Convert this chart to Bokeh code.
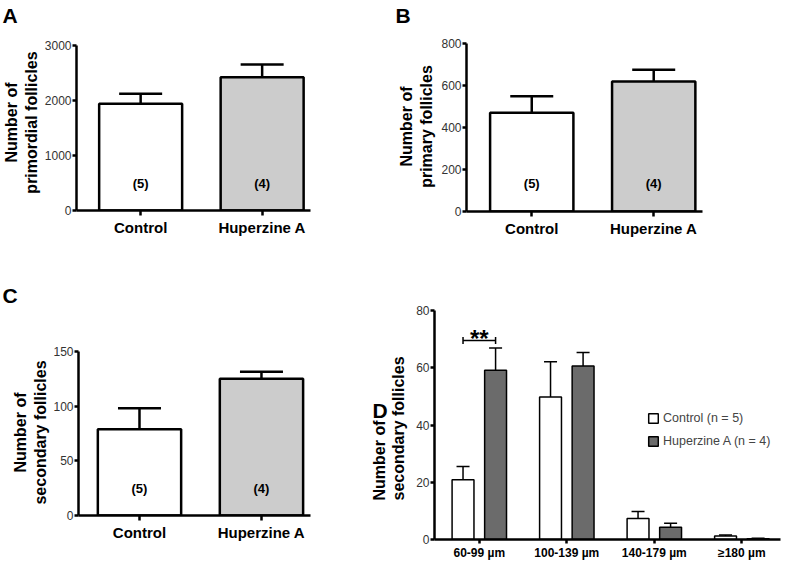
from math import pi

import numpy as np
from bokeh.plotting import figure
from bokeh.models import (Range1d, FixedTicker, Whisker, TeeHead,
                          ColumnDataSource, Legend, LegendItem)
from bokeh.layouts import column, row
from bokeh.core.properties import value
from bokeh.embed import file_html
from bokeh.resources import INLINE

FONT = "Liberation Sans"

# ---------------- data ----------------
groups = ["Control", "Huperzine A"]
n_animals = [5, 4]

primordial_mean = [1940, 2425]
primordial_sem = [185, 230]

primary_mean = [470, 619]
primary_sem = [79, 56]

secondary_mean = [79, 125]
secondary_sem = [19, 6.5]

size_classes = ["60-99 µm", "100-139 µm", "140-179 µm", "≥180 µm"]
control_by_size = [20.9, 49.8, 7.3, 1.2]
control_by_size_sem = [4.6, 12.3, 2.5, 0.4]
huperzine_by_size = [59.1, 60.6, 4.3, 0.3]
huperzine_by_size_sem = [7.8, 4.7, 1.4, 0.1]

sig_group = 0
sig_level = 69.5
sig_text = "**"

# ---------------- style ----------------
bar_fills = ["white", "#cccccc"]
hup_fill_d = "#6b6b6b"


def text_fig(W, H, items):
    """A blank, axis-less canvas in pixel coordinates for panel letters and axis titles."""
    p = figure(width=W, height=H, x_range=Range1d(0, W), y_range=Range1d(H, 0),
               output_backend="svg", toolbar_location=None, min_border=0,
               x_axis_location=None, y_axis_location=None, frame_align=False,
               background_fill_color="white", border_fill_color="white")
    p.grid.visible = False
    p.outline_line_color = None
    for (x, y, txt, size, angle, align, baseline) in items:
        p.text(x=[x], y=[y], text=[txt], text_font=value(FONT), text_font_style="bold",
               text_font_size=size, angle=angle, text_align=align,
               text_baseline=baseline, text_color="black")
    return p


def ylabel_items(cx, cy, line1, line2, align="center"):
    return [(cx - 9.6, cy, line1, "16px", pi / 2, align, "middle"),
            (cx + 9.6, cy, line2, "16px", pi / 2, align, "middle")]


def style_axes(p, xticks, xlabels, yticks, xfont, lw):
    p.xgrid.visible = False
    p.ygrid.visible = False
    p.outline_line_color = None
    for ax in (p.xaxis[0], p.yaxis[0]):
        ax.axis_line_width = lw
        ax.axis_line_color = "black"
        ax.major_tick_line_width = lw
        ax.major_tick_line_color = "black"
        ax.major_tick_out = 5
        ax.major_tick_in = 0
        ax.minor_tick_line_color = None
    xa = p.xaxis[0]
    xa.ticker = FixedTicker(ticks=xticks)
    xa.major_label_overrides = {t: l for t, l in zip(xticks, xlabels)}
    xa.major_label_text_font = FONT
    xa.major_label_text_font_style = "bold"
    xa.major_label_text_font_size = xfont
    xa.major_label_text_color = "black"
    xa.major_label_standoff = 3
    ya = p.yaxis[0]
    ya.ticker = FixedTicker(ticks=yticks)
    ya.major_label_text_font = FONT
    ya.major_label_text_font_size = "12px"
    ya.major_label_text_color = "#333333"
    ya.major_label_standoff = 1
    ya.major_tick_out = 4


def group_panel(means, sems, ymax, yticks, W, H, left, right, top, bottom, xr):
    p = figure(width=W, height=H, x_range=Range1d(*xr), y_range=Range1d(0, ymax),
               output_backend="svg", toolbar_location=None, frame_align=False,
               min_border_left=left, min_border_right=right,
               min_border_top=top, min_border_bottom=bottom,
               background_fill_color="white", border_fill_color="white")
    xs = list(range(len(groups)))
    src = ColumnDataSource(dict(
        x=xs, mean=means, upper=[m + s for m, s in zip(means, sems)],
        fill=bar_fills, n=[f"({n})" for n in n_animals],
        ny=[0.165 * ymax] * len(groups)))
    p.vbar(x="x", top="mean", bottom=0, width=0.683, fill_color="fill",
           line_color="black", line_width=2.5, source=src)
    p.add_layout(Whisker(source=src, base="x", lower="mean", upper="upper",
                         dimension="height", line_width=2.5, line_color="black",
                         upper_head=TeeHead(size=43, line_width=2.5, line_color="black"),
                         lower_head=None))
    p.text(x="x", y="ny", text="n", source=src, text_font=value(FONT),
           text_font_style="bold", text_font_size="13px", text_align="center",
           text_baseline="middle", text_color="black")
    style_axes(p, xs, groups, yticks, "15px", 2.5)
    return p


TOP_H, BOT_H = 262, 300

tA = text_fig(41, TOP_H, [(2, 3, "A", "21px", 0, "left", "top")]
              + ylabel_items(21, 122, "Number of", "primordial follicles"))
pA = group_panel(primordial_mean, primordial_sem, 3000, [0, 1000, 2000, 3000],
                 351, TOP_H, 32, 82, 45, 52, (-0.528, 1.398))
tB = text_fig(46, TOP_H, [(3, 3, "B", "21px", 0, "left", "top")]
              + ylabel_items(24, 126, "Number of", "primary follicles"))
pB = group_panel(primary_mean, primary_sem, 800, [0, 200, 400, 600, 800],
                 348, TOP_H, 25, 84, 43, 51, (-0.535, 1.40))

tC = text_fig(50, BOT_H, [(2, 21, "C", "21px", 0, "left", "top")]
              + ylabel_items(30, 170, "Number of", "secondary follicles"))
pC = group_panel(secondary_mean, secondary_sem, 150, [0, 50, 100, 150],
                 320, BOT_H, 26, 60, 89, 47, (-0.5, 1.402))

# ---------------- panel D ----------------
WD, LD, RD, TD, BD = 374, 22, 6, 48, 19
pD = figure(width=WD, height=BOT_H, x_range=Range1d(-0.512, 3.442), y_range=Range1d(0, 80),
            output_backend="svg", toolbar_location=None, frame_align=False,
            min_border_left=LD, min_border_right=RD, min_border_top=TD,
            min_border_bottom=BD, background_fill_color="white",
            border_fill_color="white")
offset = 0.186
bw = 0.25
xs = np.arange(len(size_classes))
src_c = ColumnDataSource(dict(
    x=xs - offset, mean=control_by_size,
    upper=[m + s for m, s in zip(control_by_size, control_by_size_sem)]))
src_h = ColumnDataSource(dict(
    x=xs + offset, mean=huperzine_by_size,
    upper=[m + s for m, s in zip(huperzine_by_size, huperzine_by_size_sem)]))
r_c = pD.vbar(x="x", top="mean", bottom=0, width=bw, fill_color="white",
              line_color="black", line_width=1.5, source=src_c)
r_h = pD.vbar(x="x", top="mean", bottom=0, width=bw, fill_color=hup_fill_d,
              line_color="black", line_width=1.5, source=src_h)
for s in (src_c, src_h):
    pD.add_layout(Whisker(source=s, base="x", lower="mean", upper="upper",
                          dimension="height", line_width=1.5, line_color="black",
                          upper_head=TeeHead(size=13, line_width=1.5, line_color="black"),
                          lower_head=None))
# significance bracket between the two bars of the first size class
sig_src = ColumnDataSource(dict(base=[sig_level], lower=[sig_group - offset],
                                upper=[sig_group + offset], x=[sig_group],
                                t=[sig_text]))
pD.add_layout(Whisker(source=sig_src, base="base", lower="lower", upper="upper",
                      dimension="width", line_width=1.5, line_color="black",
                      upper_head=TeeHead(size=7, line_width=1.5, line_color="black"),
                      lower_head=TeeHead(size=7, line_width=1.5, line_color="black")))
pD.text(x="x", y="base", text="t", source=sig_src, text_font=value(FONT),
        text_font_style="bold", text_font_size="24px", text_align="center",
        text_baseline="alphabetic", y_offset=-2, text_color="black")

style_axes(pD, list(xs), size_classes, [0, 20, 40, 60, 80], "12px", 2.5)
pD.xaxis[0].major_tick_out = 4
pD.xaxis[0].major_label_standoff = 2

legend = Legend(items=[
    LegendItem(label=f"{groups[0]} (n = {n_animals[0]})", renderers=[r_c]),
    LegendItem(label=f"{groups[1]} (n = {n_animals[1]})", renderers=[r_h]),
], location=(213, 91), glyph_width=12, glyph_height=12, label_height=12,
    spacing=9, padding=0, margin=0, border_line_color=None,
    background_fill_alpha=0, label_text_font=FONT, label_text_font_size="12.5px",
    label_standoff=4)
pD.add_layout(legend)

tD = text_fig(42, BOT_H, [(2, 136, "D", "21px", 0, "left", "top")]
              + ylabel_items(18.5, 238, "Number of", "secondary follicles", align="left"))

layout = column(row(tA, pA, tB, pB), row(tC, pC, tD, pD))
open("out.html", "w").write(file_html(layout, INLINE))
